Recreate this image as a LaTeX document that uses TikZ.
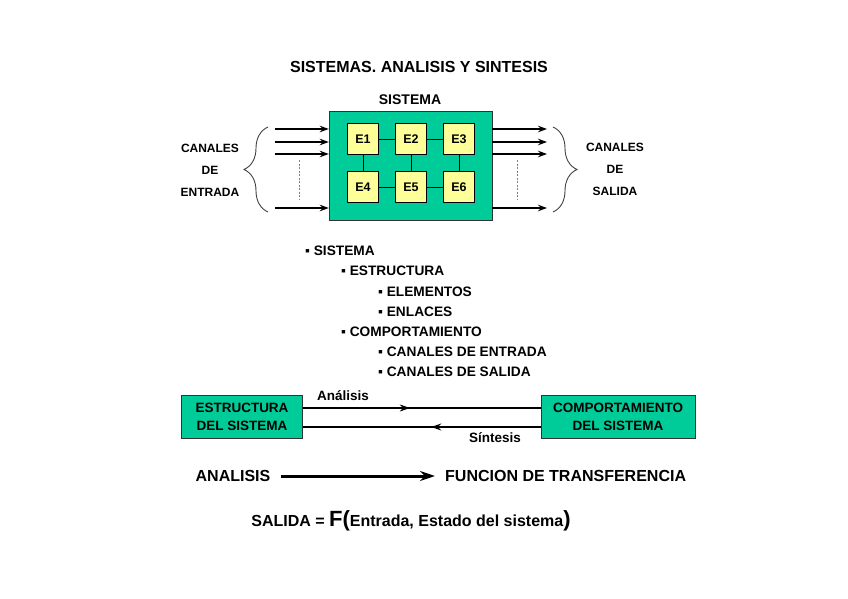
\documentclass[tikz,border=0pt]{standalone}
\usepackage{fontspec}
\setmainfont{Liberation Sans}
\usepackage{tikz}
\usetikzlibrary{arrows.meta}
\usetikzlibrary{decorations.pathreplacing}
\usetikzlibrary{decorations.markings}
\definecolor{sysgreen}{RGB}{0,204,153}
\definecolor{elemyellow}{RGB}{255,255,153}
\tikzset{ sys_box/.style = {rectangle, draw=black!80, fill=sysgreen, inner sep=0pt} }
\tikzset{ elem_box/.style = {rectangle, draw, fill=elemyellow, minimum size=31pt, inner sep=0pt, font=\bfseries\fontsize{12.5}{14}\selectfont} }
\tikzset{ bold_txt/.style = {inner sep=0pt, font=\bfseries\fontsize{#1}{#1}\selectfont} }
\tikzset{ canal_txt/.style = {inner sep=0pt, align=center, font=\bfseries\fontsize{12}{22}\selectfont} }
\tikzset{ list_item/.style = {inner sep=0pt, anchor=west, font=\bfseries\fontsize{13.7}{14}\selectfont} }
\tikzset{ chan/.style = {-{Stealth[length=9pt,width=6.5pt]}, line width=1.4pt} }
\tikzset{ dots_line/.style = {gray, line width=0.8pt, dash pattern=on 2pt off 1.5pt} }
\tikzset{ big_brace/.style = {decorate, decoration={brace, amplitude=24pt}, line width=0.9pt, black!75} }
\tikzset{ mid_arrow/.style = {line width=1.7pt, postaction=decorate, decoration={markings, mark=at position #1 with {\arrow{Stealth[length=10pt,width=7pt]}}}} }

\begin{document}
\begin{tikzpicture}[x=1pt,y=-1pt]
\useasboundingbox (0,0) rectangle (848,599);
\node[bold_txt=16] (title) at (419,67) {SISTEMAS. ANALISIS Y SINTESIS};
\node[bold_txt=14] (syslbl) at (410,100) {SISTEMA};
\node[sys_box, minimum width=163pt, minimum height=109pt] (sys) at (410.5,165.5) {};
\node[elem_box] (e1) at (363,139) {E1};
\node[elem_box] (e2) at (411,139) {E2};
\node[elem_box] (e3) at (459,139) {E3};
\node[elem_box] (e4) at (363,187) {E4};
\node[elem_box] (e5) at (411,187) {E5};
\node[elem_box] (e6) at (459,187) {E6};
\draw (e1) -- (e2);
\draw (e2) -- (e3);
\draw (e4) -- (e5);
\draw (e5) -- (e6);
\draw (e1) -- (e4);
\draw (e2) -- (e5);
\draw (e3) -- (e6);
% canales de entrada y salida
\foreach \i/\y in {1/129,2/142,3/154,4/208} {
  \coordinate (in\i) at (275,\y);
  \coordinate (out\i) at (547,\y);
  \draw[chan] (in\i) -- (in\i -| sys.west);
  \draw[chan] (sys.east |- out\i) -- (out\i);
}
\coordinate (dl1) at (299,160);
\coordinate (dl2) at (299,200);
\coordinate (dr1) at (517,160);
\coordinate (dr2) at (517,200);
\draw[dots_line] (dl1) -- (dl2);
\draw[dots_line] (dr1) -- (dr2);
\coordinate (bl1) at (268,212);
\coordinate (bl2) at (268,127);
\coordinate (br1) at (553,127);
\coordinate (br2) at (553,212);
\draw[big_brace] (bl1) -- (bl2);
\draw[big_brace] (br1) -- (br2);
\node[canal_txt] (cin) at (210,170) {CANALES\\DE\\ENTRADA};
\node[canal_txt] (cout) at (615,169) {CANALES\\DE\\SALIDA};
% lista
\node[list_item] (l1) at (305,251) {▪ SISTEMA};
\node[list_item] (l2) at (341,271) {▪ ESTRUCTURA};
\node[list_item] (l3) at (378,292) {▪ ELEMENTOS};
\node[list_item] (l4) at (378,312) {▪ ENLACES};
\node[list_item] (l5) at (341,332) {▪ COMPORTAMIENTO};
\node[list_item] (l6) at (378,352) {▪ CANALES DE ENTRADA};
\node[list_item] (l7) at (378,372) {▪ CANALES DE SALIDA};
% estructura y comportamiento
\node[sys_box, minimum width=121pt, minimum height=43pt, align=center, font=\bfseries\fontsize{13.5}{18}\selectfont] (est) at (242,416.5) {ESTRUCTURA\\DEL SISTEMA};
\node[sys_box, minimum width=154pt, minimum height=43pt, align=center, font=\bfseries\fontsize{13.5}{18}\selectfont] (comp) at (618,416.5) {COMPORTAMIENTO\\DEL SISTEMA};
\draw[mid_arrow=0.45] ([yshift=8.5pt]est.east) -- ([yshift=8.5pt]comp.west);
\draw[mid_arrow=0.46] ([yshift=-10.5pt]comp.west) -- ([yshift=-10.5pt]est.east);
\node[bold_txt=13.5] (ana) at (343,396) {Análisis};
\node[bold_txt=13.5] (sin) at (495,438) {Síntesis};
% funcion de transferencia
\node[bold_txt=16] (anal) at (233,476) {ANALISIS};
\node[bold_txt=16, anchor=west] (func) at (445,476) {FUNCION DE TRANSFERENCIA};
\draw[-{Stealth[length=15pt,width=10pt]}, line width=3pt] ([xshift=-10pt]func.west) ++(0,0) coordinate (fw) (anal.east) ++(10pt,0) coordinate (ae) (ae) -- (fw);
\node[bold_txt=16] (salida) at (411,521) {SALIDA = {\fontsize{22}{22}\selectfont F(}Entrada, Estado del sistema{\fontsize{22}{22}\selectfont )}};
\end{tikzpicture}
\end{document}
